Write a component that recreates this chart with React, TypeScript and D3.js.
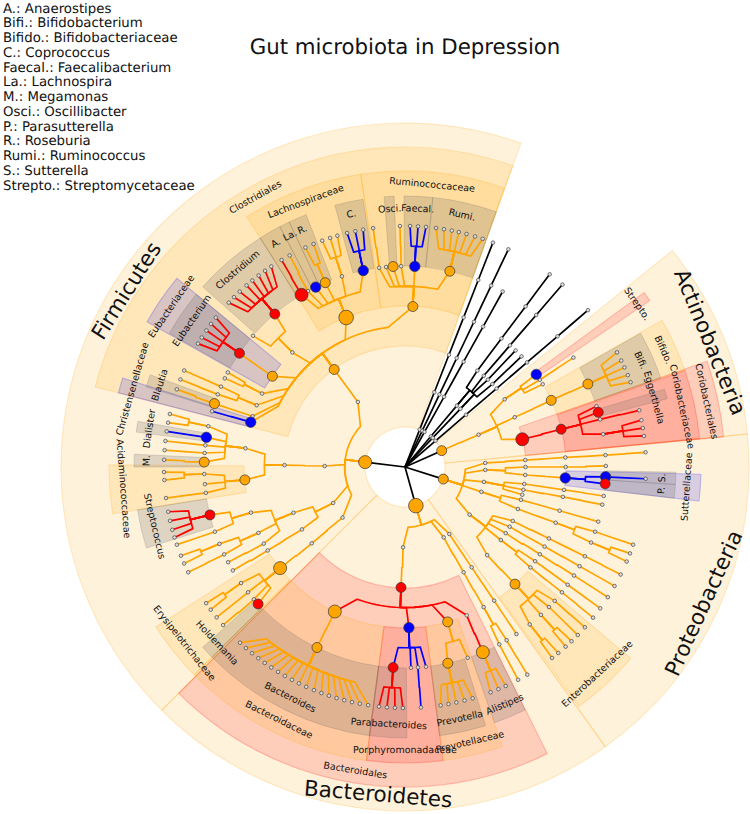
import React from "react";
import * as d3 from "d3";

const ORANGE = "#ffa500", RED = "#ff0000", BLUE = "#0000ff", GREY = "#606060", BLACK = "#000000";
const FONT = "'DejaVu Sans'";

type N = { a: number; k: N[]; fill?: string; s?: number };
const d = (a: number, ...k: N[]): N => ({ a, k });
const mk = (fill: string, s: number) => (a: number, ...k: N[]): N => ({ a, k, fill, s });
const o = mk(ORANGE, 5), O = mk(ORANGE, 6.5), OO = mk(ORANGE, 7.3);
const r = mk(RED, 5), R = mk(RED, 6.5);
const b = mk(BLUE, 5.2);
const chain = (a: number, n: number): N => (n <= 1 ? d(a) : d(a, chain(a, n - 1)));

const legendLines = [
  "A.: Anaerostipes", "Bifi.: Bifidobacterium", "Bifido.: Bifidobacteriaceae", "C.: Coprococcus",
  "Faecal.: Faecalibacterium", "La.: Lachnospira", "M.: Megamonas", "Osci.: Oscillibacter",
  "P.: Parasutterella", "R.: Roseburia", "Rumi.: Ruminococcus", "S.: Sutterella", "Strepto.: Streptomycetaceae",
];

const clostridiumTips = [313, 314.8, 316.7, 318.9, 320.7, 322.6, 324.5, 326.3];
const eubacteriumTips = [300.8, 302.5, 304.5, 306.4, 308.3];
const faecalTips = [361.2, 363.1, 365];
const rumiTips = [367.4, 369.3, 371.2, 372.9, 374.8, 376.9, 378.8];
const coproTips = [346.1, 348.1, 350];
const streptococcusTips = [259.3, 257.1, 254.9, 253];
const bacteroidesTips = [223.2, 221.3, 219.4, 217.5, 215.6, 213.7, 211.8, 209.9, 208, 206.1, 204.2, 202.2, 200.3, 198.4, 196.5, 194.6, 192.7, 190.8, 188.8];
const parabacteroidesTips = [186.2, 184.3, 182.4, 180.5];
const prevotellaTips = [171.5, 169.6, 167.7, 165.7, 163.7];
const alistipesTips = [159.2, 157.2, 155.3];
const bifiTips = [61.6, 63.8, 65.6, 67.6, 69.4];

const firmicutes = O(277,
  d(324.1, o(324,
    d(315.5, d(310.8), r(319.6, ...clostridiumTips.map((t) => d(t)))),
    OO(338.5,
      R(329, d(329.2)), d(331.1, d(331.4)), b(333.6),
      o(336.6, d(335.6), d(337.7)),
      d(341.7, d(339.9), d(341.9), d(343.7)),
      b(348, ...coproTips.map((t) => d(t)))),
    o(362.8,
      d(352.6, d(352.4)), d(354.6), o(356.6), d(358.9, d(358.8)),
      b(362.8, ...faecalTips.map((t) => d(t))),
      o(372.9, ...rumiTips.map((t) => d(t)))),
    o(304.4, r(304.5, ...eubacteriumTips.map((t) => d(t)))),
    d(297.2, d(298.1), d(296.2)),
    d(292.6, d(293.6, d(293.6)), d(291.2, d(291.3))),
    d(288.4, o(288.4, d(288.8))),
    b(286.2, d(286.1)))),
  d(270.7, d(270.9,
    d(276.7,
      d(281.7, d(282.7), d(280.6)),
      b(278.5, d(278.5)),
      d(276.2, d(276.2)),
      d(274, d(274)),
      o(271.4, d(271.7))),
    o(265.4,
      d(268, d(268.8), d(266.9)),
      d(265.1),
      d(262.6, d(262.6))))),
  d(243.4,
    d(247.7,
      d(253.5, r(256.2, ...streptococcusTips.map((t) => d(t))), d(251.2, d(251.2))),
      d(245.8, d(247.5, d(248.4), d(246.4)), d(244.2, d(244.1))),
      d(241.5, d(241.7))),
    d(238.8, d(238.7, d(239)))),
  d(231, d(230.7, O(231,
    d(234.7, d(235.6), d(233.7)),
    d(231.4, d(231.4)),
    d(228.8, d(229)),
    r(227)))),
);

const bacteroidetes = OO(164.3,
  d(181.4, r(181.9,
    O(205.9, o(206, ...bacteroidesTips.map((t) => d(t)))),
    b(178.6, r(183.4, ...parabacteroidesTips.map((t) => d(t))), d(178.3), d(176.3, d(176.2)), d(174)),
    o(164.6, o(167.7, ...prevotellaTips.map((t) => d(t))), d(161.8)),
    d(157.4, O(157.2, ...alistipesTips.map((t) => d(t)))))),
  d(151.2, d(150.9, d(150.7, d(149.6, d(149.5)), d(152, d(152))))),
  d(146.5, d(146.4, d(146.3, d(146.3)))),
);

const proteobacteria = o(107.5,
  d(87.1, d(86.7, d(86.6, d(86.6, d(86.5))))),
  d(92.1,
    d(90, d(90, d(89.7))),
    d(93.8, b(93.9, b(92.8, d(92.8)), r(94.8)))),
  d(100.7,
    d(98.1, d(98.2, d(98.3))),
    d(100.9, d(100.7, d(100.8))),
    d(103.3)),
  d(108,
    d(105.8, d(105.8, d(105.8))),
    d(110.4, d(110.3, d(108.8, d(108.8)), d(112.1, d(111), d(113.1))))),
  d(126.4,
    d(116.6, d(116.4, d(116.4, d(116.5)))),
    d(119.7, d(119.7, d(119.6, d(119.6)))),
    d(123.3, d(122.9, d(122.7, d(122.7)))),
    d(127.3, d(125.9, d(125.9, d(125.9))), d(128.7, d(128.6, d(128.7)))),
    d(137, o(136.8,
      d(131.8, d(131.7)),
      d(134.2, d(134.2)),
      d(137.4, d(136.3), d(138.2)),
      d(141.6, d(140.5), d(142.4))))),
);

const actinobacteria = o(66,
  d(66.3,
    d(55.8, b(54.8), d(57.1, d(57)), d(59)),
    d(65.6, o(65.5, o(65.6, ...bifiTips.map((t) => d(t))))),
    R(76.7, r(76.4,
      d(72.4), r(74.2), d(76.3, d(76.4)),
      d(80.6, d(78.8), d(80.7), d(82.6))))),
);

const blackClades = [
  chain(21.4, 6), chain(25.4, 6), chain(29.1, 5),
  d(40.2, d(40.2, chain(36.9, 4), chain(43.5, 2))),
  d(43.6, d(43.6, chain(40.8, 4), chain(46.5, 2))),
  chain(49.4, 6),
];

const root: N = { a: 0, k: [firmicutes, bacteroidetes, proteobacteria, actinobacteria, ...blackClades] };

// [start°, end°, colour]
const phylumWedges: [number, number, string][] = [
  [225, 379.7, ORANGE], [144.4, 225, ORANGE], [84.5, 144.4, ORANGE], [51, 84.5, ORANGE],
];
const orderWedges: [number, number, string][] = [
  [284.5, 379.7, ORANGE], [153.6, 225, RED], [70.7, 84.6, RED],
];
const familyWedges: [number, number, string][] = [
  [327.7, 351.4, ORANGE], [351.4, 379.6, ORANGE], [299.4, 309.6, BLUE], [284.5, 287.5, BLUE],
  [260.9, 270.4, ORANGE], [225.4, 237.3, ORANGE], [187.5, 225.4, ORANGE], [172.6, 187.5, RED],
  [160.8, 172.6, ORANGE], [130.3, 144, ORANGE], [91.4, 96.6, BLUE], [71, 84.5, RED],
  [60.3, 70.9, ORANGE], [53.9, 55.8, RED],
];
const genusWedges: [number, number][] = [
  [311.7, 327.7], [327.7, 332.5], [332.5, 334.7], [334.7, 338.6], [345, 351.1], [355.6, 357.7],
  [359.8, 365.9], [365.9, 379.7], [299.6, 309.6], [287.2, 289.9], [277.4, 279.7], [270, 272.7],
  [252.6, 260.9], [225.5, 228.3], [187.5, 225.4], [179.6, 187.6], [162.7, 172.7], [153.7, 160.7],
  [91.1, 93.7], [93.7, 96.6], [73.3, 75.4], [60.4, 70.8],
];

// [text, angle°]
const phylumLabels: [string, number][] = [["Firmicutes", 302.3], ["Bacteroidetes", 184.7], ["Proteobacteria", 114.5], ["Actinobacteria", 67.7]];
const orderLabels: [string, number][] = [["Clostridiales", 331], ["Bacteroidales", 189.3], ["Coriobacteriales", 77.7]];
const familyLabels: [string, number][] = [
  ["Lachnospiraceae", 339.5], ["Ruminococcaceae", 5.5], ["Eubacteriaceae", 304.5], ["Christensenellaceae", 286],
  ["Acidaminococcaceae", 265.6], ["Erysipelotrichaceae", 231.4], ["Bacteroidaceae", 206.5], ["Porphyromonadaceae", 180],
  ["Prevotellaceae", 166.7], ["Enterobacteriaceae", 137.1], ["Sutterellaceae", 94], ["Coriobacteriaceae", 77.7],
  ["Bifido.", 65.6], ["Strepto.", 54.9],
];
const genusLabels: [string, number][] = [
  ["Clostridium", 319.7], ["A.", 330], ["La.", 333.6], ["R.", 336.6], ["C.", 348], ["Osci.", 356.6], ["Faecal.", 2.8],
  ["Rumi.", 12.75], ["Eubacterium", 304.5], ["Blautia", 288.5], ["Dialister", 278.5], ["M.", 271.4],
  ["Streptococcus", 256.7], ["Holdemania", 226.9], ["Bacteroides", 206.5], ["Parabacteroides", 183.6],
  ["Prevotella", 167.7], ["Alistipes", 157.2], ["S.", 92.4], ["P.", 95.2], ["Eggerthella", 74.4], ["Bifi.", 65.6],
];

const CX = 405, CY = 467;
const angle = d3.scaleLinear().domain([0, 360]).range([0, 2 * Math.PI]);
const radius = d3.scaleLinear().domain([0, 6]).range([0, 241]);
const lineR = d3.lineRadial<[number, number]>().angle((p) => angle(p[0])).radius((p) => p[1]);
const arc = d3.arc<unknown, unknown>();

function px(a: number, rr: number): [number, number] {
  const t = angle(a);
  return [rr * Math.sin(t), -rr * Math.cos(t)];
}

type Link = { path: string; color: string };
type Dot = { x: number; y: number; fill?: string; s?: number; depth: number };
const links: Link[] = [];
const dots: Dot[] = [];

function walk(n: N, depth: number, color: string) {
  const rp = radius(depth);
  const [x, y] = px(n.a, rp);
  if (depth > 0) dots.push({ x, y, fill: n.fill, s: n.s, depth });
  const next = depth === 0 ? BLACK : n.fill ?? color;
  for (const c of n.k) {
    const rc = radius(depth + 1);
    let pts: [number, number][];
    if (depth === 0) {
      pts = [[c.a, 0], [c.a, rc]];
    } else {
      const rm = (rp + rc) / 2;
      const am = n.a + 0.75 * (c.a - n.a);
      pts = [[n.a, rp]];
      const steps = Math.max(1, Math.ceil(Math.abs(am - n.a) / 2));
      for (let i = 0; i <= steps; i++) pts.push([n.a + ((am - n.a) * i) / steps, rm]);
      pts.push([c.a, rc]);
    }
    links.push({ path: lineR(pts) as string, color: next });
  }
  for (const c of n.k) walk(c, depth + 1, next);
}
walk(root, 0, BLACK);
dots.sort((p, q) => (p.fill ? 1 : 0) - (q.fill ? 1 : 0));

function wedge(s: number, e: number, inner: number, outer: number) {
  return arc({ innerRadius: inner, outerRadius: outer, startAngle: angle(s), endAngle: angle(e) } as any) as string;
}

function Label({ t, a, rr, size }: { t: string; a: number; rr: number; size: number }) {
  const [x, y] = px(a, rr);
  const norm = ((a % 360) + 360) % 360;
  const rot = norm > 90 && norm < 270 ? norm - 180 : norm;
  return (
    <text transform={`translate(${x},${y}) rotate(${rot})`} textAnchor="middle" dominantBaseline="central"
      fontSize={size} fill="#111" fontFamily={FONT} textRendering="geometricPrecision">{t}</text>
  );
}

export default function App() {
  return (
    <svg width={750} height={814} style={{ position: "absolute", left: 0, top: 0 }}>
      <g transform={`translate(${CX},${CY})`}>
        {phylumWedges.map(([s, e, c], i) => (
          <path key={i} d={wedge(s, e, 40, 344)} fill={c} fillOpacity={0.14} stroke={c} strokeOpacity={0.2} strokeWidth={1.2} />
        ))}
        {orderWedges.map(([s, e, c], i) => (
          <path key={i} d={wedge(s, e, 121, 320)} fill={c} fillOpacity={0.15} stroke={c} strokeOpacity={0.2} strokeWidth={1.2} />
        ))}
        {familyWedges.map(([s, e, c], i) => (
          <path key={i} d={wedge(s, e, 161, 296)} fill={c} fillOpacity={0.15} stroke={c} strokeOpacity={0.2} strokeWidth={1.2} />
        ))}
        {genusWedges.map(([s, e], i) => (
          <path key={i} d={wedge(s, e, 201, 271)} fill={GREY} fillOpacity={0.2} stroke={GREY} strokeOpacity={0.2} strokeWidth={1} />
        ))}
        {links.map((l, i) => (
          <path key={i} d={l.path} fill="none" stroke={l.color} strokeWidth={1.7} strokeLinejoin="round" />
        ))}
        {dots.map((p, i) => p.fill
          ? <circle key={i} cx={p.x} cy={p.y} r={p.s} fill={p.fill} stroke="#333" strokeWidth={0.7} />
          : <circle key={i} cx={p.x} cy={p.y} r={1.8} fill="#ddd" stroke="#444" strokeWidth={0.7} />)}
        {phylumLabels.map(([t, a]) => <Label key={t} t={t} a={a} rr={329} size={21.5} />)}
        {orderLabels.map(([t, a]) => <Label key={t} t={t} a={a} rr={308} size={9.5} />)}
        {familyLabels.map(([t, a]) => <Label key={t} t={t} a={a} rr={283} size={9.5} />)}
        {genusLabels.map(([t, a]) => <Label key={t} t={t} a={a} rr={258} size={9.5} />)}
      </g>
      <text x={405} y={54} textAnchor="middle" fontSize={21.3} fill="#111" fontFamily={FONT} textRendering="geometricPrecision">Gut microbiota in Depression</text>
      {legendLines.map((t, i) => (
        <text key={t} x={3} y={12.5 + i * 14.75} fontSize={13.3} fill="#111" fontFamily={FONT} textRendering="geometricPrecision">{t}</text>
      ))}
    </svg>
  );
}
